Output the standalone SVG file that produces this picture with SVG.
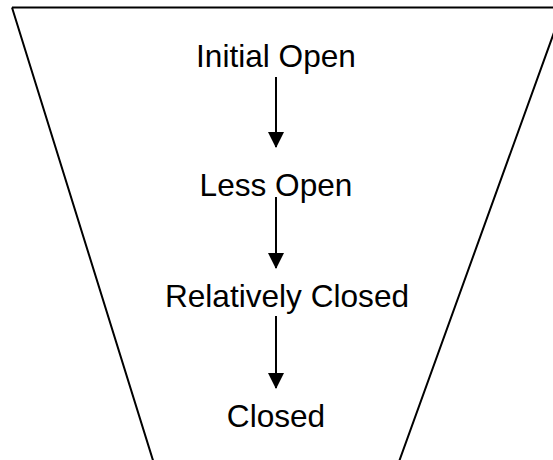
<svg xmlns="http://www.w3.org/2000/svg" width="553" height="460" viewBox="0 0 553 460">
<style>
.lbl{font-family:"Liberation Sans",Arial,sans-serif;font-size:31.6px;fill:#000;text-anchor:middle}
.edge{stroke:#000;stroke-width:2;fill:none}
</style>
<defs>
<marker id="ah" viewBox="0 0 16 16" markerWidth="16" markerHeight="16" refX="15" refY="8" orient="auto" markerUnits="userSpaceOnUse">
<path d="M0,0 L16,8 L0,16 Z" fill="#000"/>
</marker>
</defs>
<rect width="553" height="460" fill="#fff"/>
<g id="funnel">
<path d="M12,7.5 L565,7.5 M12,7.5 L156,470 M563,7.5 L396,470" stroke="#000" stroke-width="2" fill="none"/>
</g>
<g id="connectors">
<line class="edge" x1="276" y1="77" x2="276" y2="147" marker-end="url(#ah)"/>
<line class="edge" x1="276" y1="197" x2="276" y2="268" marker-end="url(#ah)"/>
<line class="edge" x1="276" y1="316" x2="276" y2="388" marker-end="url(#ah)"/>
</g>
<g id="n1"><text class="lbl" x="276" y="67">Initial Open</text></g>
<g id="n2"><text class="lbl" x="276" y="196">Less Open</text></g>
<g id="n3"><text class="lbl" x="287" y="307">Relatively Closed</text></g>
<g id="n4"><text class="lbl" x="276" y="427">Closed</text></g>
</svg>
